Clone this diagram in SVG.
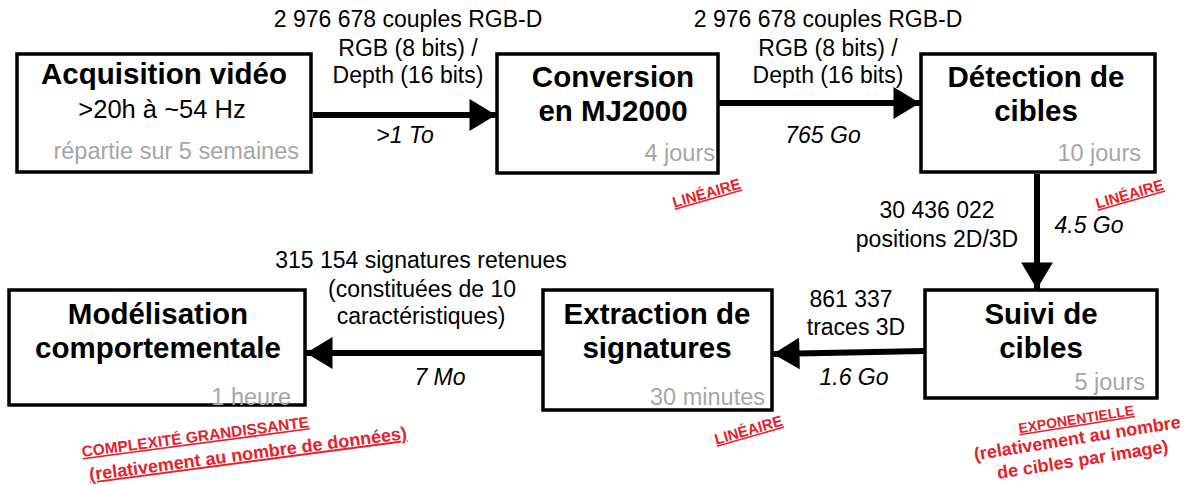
<svg xmlns="http://www.w3.org/2000/svg" width="1193" height="486" viewBox="0 0 1193 486">
<style>
text{font-family:"Liberation Sans",Arial,sans-serif}
.box{fill:#fff;stroke:#000;stroke-width:3.5}
.t{font-weight:bold;font-size:29.5px;fill:#000;text-anchor:middle}
.s{font-size:25.5px;fill:#000;text-anchor:middle}
.g{font-size:23.5px;fill:#a6a6a6;text-anchor:end}
.l{font-size:23px;fill:#000;text-anchor:middle}
.i{font-size:23px;font-style:italic;fill:#000;text-anchor:middle}
.r{font-size:15px;font-weight:bold;fill:#e8202a;text-anchor:middle}
.u{text-decoration:underline}
.r2{font-size:18px}
.c{stroke:#000;stroke-width:6;fill:none}
</style>
<defs>
<marker id="ah" viewBox="0 0 10 12" refX="10" refY="6" markerWidth="4.5" markerHeight="5.3" orient="auto" markerUnits="strokeWidth">
<path d="M0,0 L10,6 L0,12 z" fill="#000"/>
</marker>
</defs>
<g id="connectors">
<line class="c" x1="313" y1="115" x2="496" y2="115" marker-end="url(#ah)"/>
<line class="c" x1="719" y1="103" x2="920" y2="103" marker-end="url(#ah)"/>
<line class="c" x1="1037" y1="174" x2="1037" y2="289" marker-end="url(#ah)"/>
<line class="c" x1="924" y1="351" x2="773" y2="354" marker-end="url(#ah)"/>
<line class="c" x1="542" y1="353" x2="306" y2="353" marker-end="url(#ah)"/>
</g>
<g id="n1">
<rect class="box" x="17" y="54" width="294" height="118"/>
<text class="t" x="164" y="84">Acquisition vidéo</text>
<text class="s" x="162" y="118">&gt;20h à ~54 Hz</text>
<text class="g" x="299" y="159">répartie sur 5 semaines</text>
</g>
<g id="n2">
<rect class="box" x="497" y="54" width="221" height="119"/>
<text class="t" x="613" y="87">Conversion</text>
<text class="t" x="613" y="121">en MJ2000</text>
<text class="g" x="715" y="161">4 jours</text>
</g>
<g id="n3">
<rect class="box" x="921" y="54" width="234" height="118"/>
<text class="t" x="1036" y="87">Détection de</text>
<text class="t" x="1036" y="121">cibles</text>
<text class="g" x="1141" y="161">10 jours</text>
</g>
<g id="n4">
<rect class="box" x="925" y="290" width="232" height="108"/>
<text class="t" x="1041" y="324">Suivi de</text>
<text class="t" x="1041" y="358">cibles</text>
<text class="g" x="1145" y="390">5 jours</text>
</g>
<g id="n5">
<rect class="box" x="543" y="290" width="229" height="120"/>
<text class="t" x="657" y="324">Extraction de</text>
<text class="t" x="657" y="358">signatures</text>
<text class="g" x="765" y="405">30 minutes</text>
</g>
<g id="n6">
<rect class="box" x="9" y="290" width="296" height="115"/>
<text class="t" x="158" y="324">Modélisation</text>
<text class="t" x="158" y="358">comportementale</text>
<text class="g" x="291" y="405">1 heure</text>
</g>
<g id="labels">
<text class="l" x="408" y="27">2 976 678 couples RGB-D</text>
<text class="l" x="408" y="56">RGB (8 bits) /</text>
<text class="l" x="408" y="83">Depth (16 bits)</text>
<text class="i" x="405" y="143">&gt;1 To</text>
<text class="l" x="828" y="27">2 976 678 couples RGB-D</text>
<text class="l" x="828" y="56">RGB (8 bits) /</text>
<text class="l" x="828" y="83">Depth (16 bits)</text>
<text class="i" x="823" y="143">765 Go</text>
<text class="l" x="937" y="218">30 436 022</text>
<text class="l" x="937" y="247">positions 2D/3D</text>
<text class="i" x="1089" y="233">4.5 Go</text>
<text class="l" x="421" y="268">315 154 signatures retenues</text>
<text class="l" x="422" y="297">(constituées de 10</text>
<text class="l" x="421" y="324">caractéristiques)</text>
<text class="i" x="440" y="385">7 Mo</text>
<text class="l" x="851" y="307">861 337</text>
<text class="l" x="856" y="335">traces 3D</text>
<text class="i" x="854" y="385">1.6 Go</text>
<text class="r u" transform="translate(708,198) rotate(-16)">LINÉAIRE</text>
<text class="r u" transform="translate(1131,199) rotate(-16)">LINÉAIRE</text>
<text class="r u" transform="translate(750,435) rotate(-16)">LINÉAIRE</text>
<text class="r" transform="translate(1077,424) rotate(-9)"><tspan class="u" x="0" y="0" style="font-size:14px">EXPONENTIELLE</tspan><tspan class="r2" x="-2" y="20">(relativement au nombre</tspan><tspan class="r2" x="0" y="42">de cibles par image)</tspan></text>
<text class="r u" transform="translate(196,442) rotate(-7.5)" style="font-size:15.5px">COMPLEXITÉ GRANDISSANTE<tspan class="r2" x="50" y="24.5">(relativement au nombre de données)</tspan></text>
</g>
</svg>
